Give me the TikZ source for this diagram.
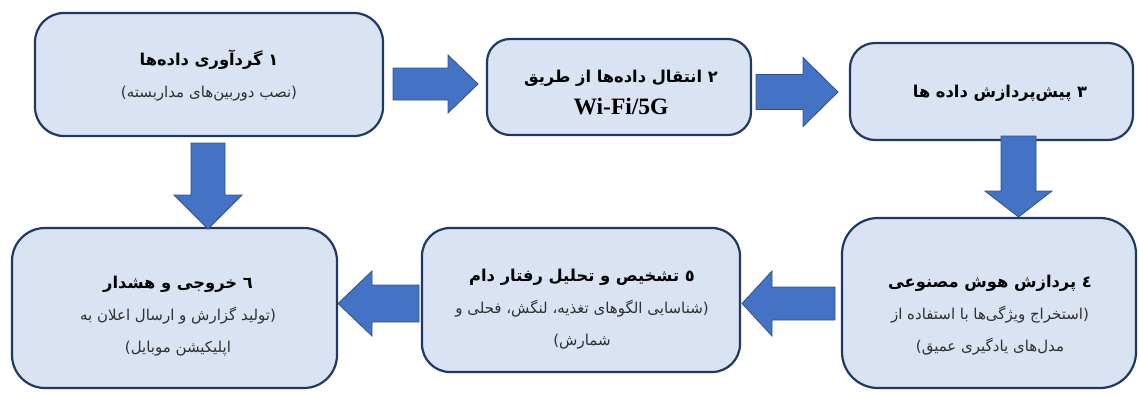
\documentclass[tikz,border=0pt]{standalone}
\usepackage{fontspec}
\TeXXeTstate=1
\newfontfamily\fa[Script=Arabic]{DejaVu Sans}
\newfontfamily\lserif{Liberation Serif}
\usetikzlibrary{calc}
\definecolor{boxfill}{HTML}{DAE3F3}
\definecolor{boxline}{HTML}{203864}
\definecolor{arrfill}{HTML}{4472C4}
\definecolor{arrline}{HTML}{2F528F}
\definecolor{subtxt}{HTML}{303030}
\newcommand\ttl{\fontsize{16.3}{32}\selectfont\bfseries\color{black}}
\newcommand\sbt{\fontsize{15}{32}\selectfont\mdseries\color{subtxt}}
\newcommand\hblockarrow[5]{\path[blockarrow] let \p1=(#1), \p2=(#2), \n1={sign(\x2-\x1)} in
 (\x1,{\y2+#3pt}) -- ({\x2-\n1*#5pt},{\y2+#3pt}) -- ({\x2-\n1*#5pt},{\y2+#4pt}) -- (\x2,\y2)
 -- ({\x2-\n1*#5pt},{\y2-#4pt}) -- ({\x2-\n1*#5pt},{\y2-#3pt}) -- (\x1,{\y2-#3pt}) -- cycle;}
\newcommand\vblockarrow[5]{\path[blockarrow] let \p1=(#1), \p2=(#2), \n1={sign(\y2-\y1)} in
 ({\x2-#3pt},\y1) -- ({\x2-#3pt},{\y2-\n1*#5pt}) -- ({\x2-#4pt},{\y2-\n1*#5pt}) -- (\x2,\y2)
 -- ({\x2+#4pt},{\y2-\n1*#5pt}) -- ({\x2+#3pt},{\y2-\n1*#5pt}) -- ({\x2+#3pt},\y1) -- cycle;}
\tikzset{
 box/.style={draw=boxline, fill=boxfill, line width=2.2pt, inner sep=0pt},
 txt/.style={align=center, inner sep=0pt, font={\fa\fontsize{15}{32}\selectfont}},
 blockarrow/.style={fill=arrfill, draw=arrline, line width=0.8pt, line join=miter},
}
\begin{document}
\begin{tikzpicture}[x=1pt,y=-1pt]
\useasboundingbox (0,0) rectangle (1139,394);
% boxes
\node[box, rounded corners=29pt, minimum width=348pt, minimum height=123pt] (b1) at (209,74.5) {};
\node[box, rounded corners=23pt, minimum width=264pt, minimum height=96pt] (b2) at (619,87) {};
\node[box, rounded corners=25pt, minimum width=283pt, minimum height=97pt] (b3) at (991.5,91.5) {};
\node[box, rounded corners=36pt, minimum width=294pt, minimum height=170pt] (b4) at (989,303) {};
\node[box, rounded corners=28pt, minimum width=318pt, minimum height=144pt] (b5) at (581,300) {};
\node[box, rounded corners=33pt, minimum width=325pt, minimum height=160pt] (b6) at (174.5,308) {};
% texts
\node[txt] (t1) at (209,76) {\ttl\beginR ١ گردآوری داده‌ها\endR\\ \sbt\beginR (نصب دوربین‌های مداربسته)\endR};
\node[txt] (t2) at (621,92.5) {\ttl\beginR ٢ انتقال داده‌ها از طریق\endR\\ {\lserif\bfseries\fontsize{23.5}{32}\selectfont Wi-Fi/5G}};
\node[txt] (t3) at (1000,93) {\ttl\beginR ٣ پیش‌پردازش داده ها\endR};
\node[txt] (t4) at (990,315) {\ttl\beginR ٤ پردازش هوش مصنوعی\endR\\ \sbt\beginR (استخراج ویژگی‌ها با استفاده از\endR\\ \sbt\beginR مدل‌های یادگیری عمیق)\endR};
\node[txt] (t5) at (582,309) {\ttl\beginR ٥ تشخیص و تحلیل رفتار دام\endR\\ \sbt\beginR (شناسایی الگوهای تغذیه، لنگش، فحلی و\endR\\ \sbt\beginR شمارش)\endR};
\node[txt] (t6) at (178,316.5) {\ttl\beginR ٦ خروجی و هشدار\endR\\ \sbt\beginR (تولید گزارش و ارسال اعلان به\endR\\ \sbt\beginR اپلیکیشن موبایل)\endR};
% arrow end points
\coordinate (a12s) at (393,84);   \coordinate (a12t) at (478,84);
\coordinate (a23s) at (756,92);   \coordinate (a23t) at (838,92);
\coordinate (a16s) at (208,143);  \coordinate (a16t) at (208,229);
\coordinate (a34s) at (1018.5,136); \coordinate (a34t) at (1018.5,217);
\coordinate (a45s) at (835,303.5); \coordinate (a45t) at (742,303.5);
\coordinate (a56s) at (419,303.5); \coordinate (a56t) at (338,303.5);
% block arrows
\hblockarrow{a12s}{a12t}{16}{29}{30}
\hblockarrow{a23s}{a23t}{17.5}{34.5}{35}
\vblockarrow{a16s}{a16t}{17}{34}{34}
\vblockarrow{a34s}{a34t}{17.5}{33.5}{26}
\hblockarrow{a45s}{a45t}{16.5}{32.5}{30}
\hblockarrow{a56s}{a56t}{18.5}{32.5}{34}
\end{tikzpicture}
\end{document}
